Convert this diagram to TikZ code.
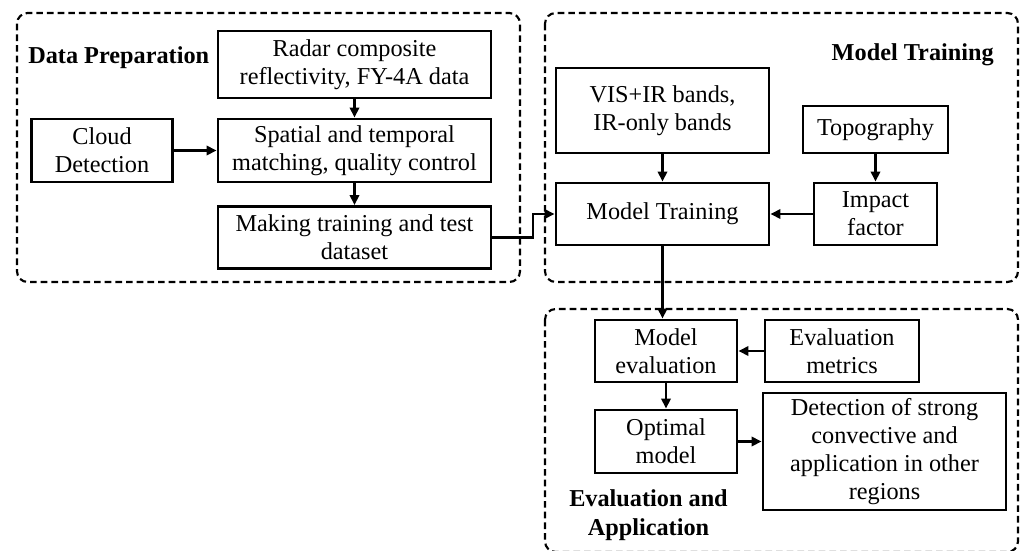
\documentclass[tikz,border=0pt]{standalone}
\usepackage{fontspec}
\setmainfont{Liberation Serif}
\usetikzlibrary{arrows.meta,calc}
\begin{document}
\begin{tikzpicture}[x=0.75pt,y=-0.75pt,
  box/.style={draw, line width=2.2pt, inner sep=0pt, align=center, font=\fontsize{18.2pt}{21pt}\selectfont},
  sz/.style 2 args={minimum width=#1*0.75pt, minimum height=#2*0.75pt},
  grp/.style={draw, line width=1.6pt, rounded corners=8pt, dash pattern=on 5pt off 3pt},
  arr/.style={line width=1.9pt, -{Triangle[length=7.5pt,width=7pt]}},
  title/.style={font=\fontsize{18.2pt}{21.5pt}\selectfont\bfseries, inner sep=0pt, align=center}]
\useasboundingbox (0,0) rectangle (1024,550);
% group frames
\draw[grp] (17,13) rectangle (520,282);
\draw[grp] (545,13) rectangle (1018,282);
\draw[grp] (545,309) rectangle (1018,552);
% titles
\node[title, anchor=base west] (tdp) at (28,63) {Data Preparation};
\node[title, anchor=base east] (tmt) at (994,60) {Model Training};
\node[title] (tea) at (648.5,515) {Evaluation and\\Application};
% boxes
\node[box, sz={273}{67}] (radar) at (354.5,64.5) {Radar composite\\reflectivity, FY-4A data};
\node[box, sz={273}{63}] (spatial) at (354.5,150.5) {Spatial and temporal\\matching, quality control};
\node[box, sz={273}{62}] (making) at (354.5,237.5) {Making training and test\\dataset};
\node[box, sz={141}{63}] (cloud) at (102,150.5) {Cloud\\Detection};
\node[box, sz={213}{85}] (vis) at (662.5,110.5) {VIS+IR bands,\\IR-only bands};
\node[box, sz={213}{62}] (mt) at (662.5,214) {Model Training};
\node[box, sz={145}{47}] (topo) at (875.5,129.5) {Topography};
\node[box, sz={123}{62}] (impact) at (875.5,214) {Impact\\factor};
\node[box, sz={142}{62}] (eval) at (666,351) {Model\\evaluation};
\node[box, sz={154}{62}] (metrics) at (842,351) {Evaluation\\metrics};
\node[box, sz={142}{63}] (optimal) at (666,441.5) {Optimal\\model};
\node[box, sz={243}{117}] (detect) at (884.5,451.5) {Detection of strong\\convective and\\application in other\\regions};
% connectors
\coordinate (jn) at (533,0);
\draw[arr] (radar) -- (spatial);
\draw[arr] (spatial) -- (making);
\draw[arr] (cloud) -- (spatial);
\draw[arr] (making.east) -- (making.east -| jn) |- (mt.west);
\draw[arr] (vis) -- (mt);
\draw[arr] (topo) -- (impact);
\draw[arr] (impact) -- (mt);
\draw[arr] (mt.south) -- (mt.south |- eval.north);
\draw[arr] (metrics) -- (eval);
\draw[arr] (eval) -- (optimal);
\draw[arr] (optimal.east) -- (optimal.east -| detect.west);
\end{tikzpicture}
\end{document}
